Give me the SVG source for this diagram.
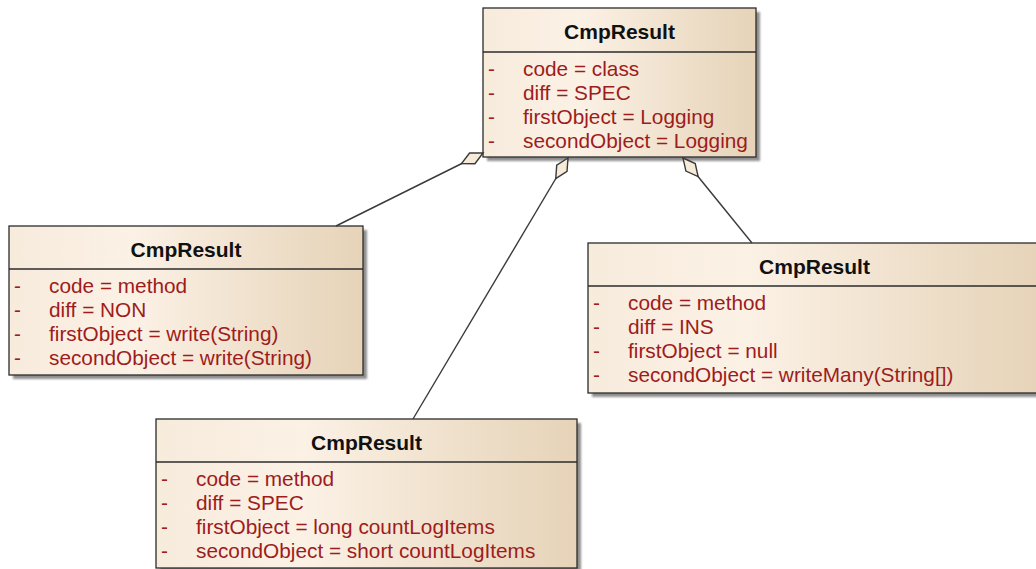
<svg xmlns="http://www.w3.org/2000/svg" width="1036" height="569" viewBox="0 0 1036 569">
  <style>
    .box { fill: url(#classFill); stroke: #2b2b2b; stroke-width: 1.3; }
    .shadow { fill: #8f8f8f; filter: url(#soft); }
    .divider { stroke: #2b2b2b; stroke-width: 1.3; }
    .title { font-family: "Liberation Sans", Arial, sans-serif; font-size: 21px; font-weight: bold; fill: #111; text-anchor: middle; }
    .attr { font-family: "Liberation Sans", Arial, sans-serif; font-size: 20.8px; fill: #9e1c1c; }
    .link { stroke: #3a3a3a; stroke-width: 1.4; fill: none; marker-start: url(#aggregation); }
  </style>
  <defs>
    <linearGradient id="classFill" x1="0" y1="0" x2="1" y2="0">
      <stop offset="0" stop-color="#f7ebdc"/>
      <stop offset="0.35" stop-color="#fbf1e5"/>
      <stop offset="1" stop-color="#e6d3b8"/>
    </linearGradient>
    <filter id="soft" x="-5%" y="-5%" width="110%" height="110%">
      <feGaussianBlur stdDeviation="1.2"/>
    </filter>
    <marker id="aggregation" viewBox="-2 -8 28 16" refX="0" refY="0" markerWidth="28" markerHeight="16" markerUnits="userSpaceOnUse" orient="auto">
      <path d="M0,0 L12,-6 L24,0 L12,6 Z" fill="#f6ead8" stroke="#3a3a3a" stroke-width="1.4"/>
    </marker>
  </defs>

  <rect width="1036" height="569" fill="#ffffff"/>

  <g id="node-class">
    <rect class="shadow" x="487" y="12" width="273" height="149"/>
    <rect class="box" x="483" y="8" width="273" height="149"/>
    <line class="divider" x1="483" y1="52" x2="756" y2="52"/>
    <text class="title" x="619.5" y="39">CmpResult</text>
    <text class="attr" x="488" y="76">-</text>
    <text class="attr" x="523" y="76">code = class</text>
    <text class="attr" x="488" y="100">-</text>
    <text class="attr" x="523" y="100">diff = SPEC</text>
    <text class="attr" x="488" y="124">-</text>
    <text class="attr" x="523" y="124">firstObject = Logging</text>
    <text class="attr" x="488" y="148">-</text>
    <text class="attr" x="523" y="148">secondObject = Logging</text>
  </g>

  <g id="node-write">
    <rect class="shadow" x="13" y="230" width="354" height="149"/>
    <rect class="box" x="9" y="226" width="354" height="149"/>
    <line class="divider" x1="9" y1="269" x2="363" y2="269"/>
    <text class="title" x="186" y="257">CmpResult</text>
    <text class="attr" x="14" y="293">-</text>
    <text class="attr" x="49" y="293">code = method</text>
    <text class="attr" x="14" y="317">-</text>
    <text class="attr" x="49" y="317">diff = NON</text>
    <text class="attr" x="14" y="341">-</text>
    <text class="attr" x="49" y="341">firstObject = write(String)</text>
    <text class="attr" x="14" y="365">-</text>
    <text class="attr" x="49" y="365">secondObject = write(String)</text>
  </g>

  <g id="node-writemany">
    <rect class="shadow" x="592" y="247" width="453" height="150"/>
    <rect class="box" x="588" y="243" width="453" height="150"/>
    <line class="divider" x1="588" y1="286" x2="1041" y2="286"/>
    <text class="title" x="814.5" y="274">CmpResult</text>
    <text class="attr" x="593" y="310">-</text>
    <text class="attr" x="628" y="310">code = method</text>
    <text class="attr" x="593" y="334">-</text>
    <text class="attr" x="628" y="334">diff = INS</text>
    <text class="attr" x="593" y="358">-</text>
    <text class="attr" x="628" y="358">firstObject = null</text>
    <text class="attr" x="593" y="382">-</text>
    <text class="attr" x="628" y="382">secondObject = writeMany(String[])</text>
  </g>

  <g id="node-countlogitems">
    <rect class="shadow" x="160" y="423" width="421" height="149"/>
    <rect class="box" x="156" y="419" width="421" height="149"/>
    <line class="divider" x1="156" y1="462" x2="577" y2="462"/>
    <text class="title" x="366.5" y="450">CmpResult</text>
    <text class="attr" x="161" y="486">-</text>
    <text class="attr" x="196" y="486">code = method</text>
    <text class="attr" x="161" y="510">-</text>
    <text class="attr" x="196" y="510">diff = SPEC</text>
    <text class="attr" x="161" y="534">-</text>
    <text class="attr" x="196" y="534">firstObject = long countLogItems</text>
    <text class="attr" x="161" y="558">-</text>
    <text class="attr" x="196" y="558">secondObject = short countLogItems</text>
  </g>

  <!-- aggregation links: hollow diamond sits on the class-level result -->
  <g id="connectors">
    <line class="link" x1="483" y1="153" x2="336" y2="226"/>
    <line class="link" x1="568" y1="158" x2="413" y2="419"/>
    <line class="link" x1="683" y1="158" x2="752" y2="243"/>
  </g>
</svg>
